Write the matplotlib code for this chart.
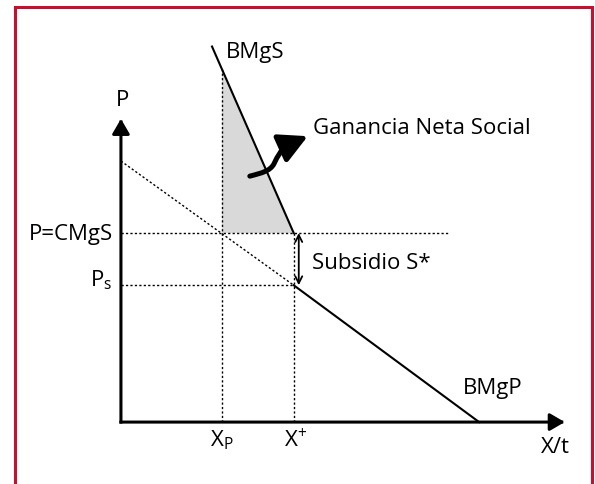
import numpy as np
import matplotlib
matplotlib.use('Agg')
import matplotlib.pyplot as plt
from matplotlib.patches import Rectangle, FancyArrowPatch, Polygon
from matplotlib.path import Path

plt.rcParams['font.family'] = ['Open Sans', 'DejaVu Sans']
plt.rcParams['mathtext.fontset'] = 'custom'
plt.rcParams['mathtext.rm'] = 'Open Sans'

# values (quantity X, price P)
x_private = 2.8      # X_P
x_star = 4.8         # X+
p_cmgs = 5.25        # P = CMgS
p_s = 3.8            # P_s
axis_x_end = 12.33
axis_y_end = 8.42

# private marginal benefit (demand): dashed part and solid part
bmgp_x = [0.0, x_star, 9.95]
bmgp_y = [7.25, p_s, 0.0]

# social marginal benefit
bmgs_x = [2.53, x_star]
bmgs_y = [10.43, p_cmgs]

# wavy pointer to the shaded area
wave_x = [3.58, 3.92, 4.14, 4.25, 4.36, 4.44, 4.64, 5.19]
wave_y = [6.83, 6.92, 6.97, 7.17, 7.39, 7.58, 7.69, 7.94]

fs = 16
col = 'black'
dot = (0, (1.6, 1.6))

fig = plt.figure(figsize=(5.95, 4.85), dpi=100)
ax = fig.add_axes([0, 0, 1, 1])
ax.set_xlim(-3.36, 13.17)
ax.set_ylim(-1.72, 11.75)
ax.axis('off')

# frame
fig.patches.append(Rectangle((15 / 595, -0.1), 577 / 595, 1.0835, transform=fig.transFigure,
                             fill=False, ec='#C8102E', lw=2.2, clip_on=False))

# shaded net social gain
bmgs_at_xp = np.interp(x_private, bmgs_x, bmgs_y)
ax.add_patch(Polygon([[x_private, bmgs_at_xp], [x_private, p_cmgs], [x_star, p_cmgs]],
                     closed=True, fc='#D9D9D9', ec='none', zorder=1))

# dotted guides
ax.plot([0, 9.08], [p_cmgs, p_cmgs], color=col, lw=1, ls=dot, zorder=2)
ax.plot([0, x_star], [p_s, p_s], color=col, lw=1, ls=dot, zorder=2)
ax.plot([x_private, x_private], [0, bmgs_at_xp], color=col, lw=1, ls=dot, zorder=2)
ax.plot([x_star, x_star], [0, p_cmgs], color=col, lw=1, ls=dot, zorder=2)

# demand: dashed up to X+, solid afterwards
ax.plot(bmgp_x[:2], bmgp_y[:2], color=col, lw=1, ls=dot, zorder=2)
ax.plot(bmgp_x[1:], bmgp_y[1:], color=col, lw=1.5, zorder=3)
ax.plot(bmgs_x, bmgs_y, color=col, lw=1.5, zorder=3)

# axes with arrows
for end in [(axis_x_end, 0), (0, axis_y_end)]:
    ax.add_patch(FancyArrowPatch((0, 0), end, arrowstyle='-|>,head_length=0.6,head_width=0.35',
                                 mutation_scale=15, lw=2.2, color=col, shrinkA=0, shrinkB=0,
                                 capstyle='projecting', zorder=4))

# subsidy double arrow
ax.add_patch(FancyArrowPatch((x_star + 0.14, p_cmgs), (x_star + 0.14, p_s),
                             arrowstyle='<->,head_length=0.5,head_width=0.25', mutation_scale=10,
                             lw=1.3, color=col, shrinkA=0, shrinkB=0, zorder=4))

# wavy arrow
verts = list(zip(wave_x, wave_y))
codes = [Path.MOVETO] + [Path.CURVE4] * 6 + [Path.LINETO]
ax.add_patch(FancyArrowPatch(path=Path(verts, codes), arrowstyle='-|>,head_length=0.95,head_width=0.5',
                             mutation_scale=18, lw=3.6, color=col, shrinkA=0, shrinkB=0, zorder=5))

# labels
ax.text(2.92, 10.28, 'BMgS', fontsize=fs, ha='left', va='center')
ax.text(0.03, 8.97, 'P', fontsize=fs, ha='center', va='center')
ax.text(-0.22, p_cmgs, 'P=CMgS', fontsize=fs, ha='right', va='center')
ax.text(-0.25, 3.97, r'P$_\mathregular{s}$', fontsize=fs, ha='right', va='center')
ax.text(x_private, -0.47, r'X$_\mathregular{P}$', fontsize=fs, ha='center', va='center')
ax.text(x_star + 0.05, -0.47, r'X$^\mathregular{+}$', fontsize=fs, ha='center', va='center')
ax.text(12.08, -0.67, 'X/t', fontsize=fs, ha='center', va='center')
ax.text(10.33, 0.97, 'BMgP', fontsize=fs, ha='center', va='center')
ax.text(5.31, 4.44, 'Subsidio S*', fontsize=fs, ha='left', va='center')
ax.text(5.33, 8.19, 'Ganancia Neta Social', fontsize=fs, ha='left', va='center')

fig.savefig('out.png', dpi=100)
